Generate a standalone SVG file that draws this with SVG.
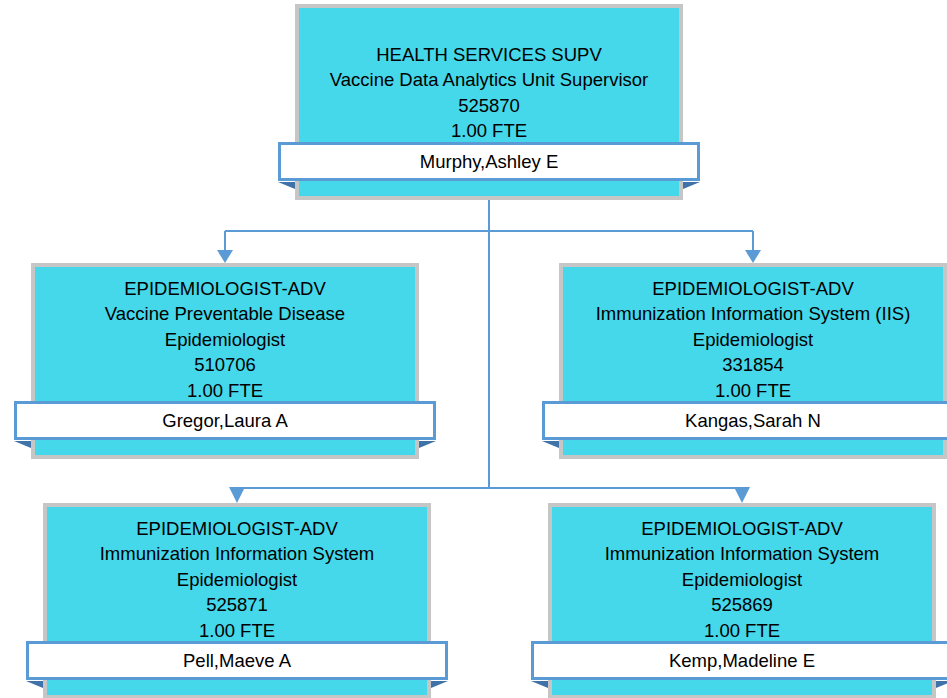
<svg xmlns="http://www.w3.org/2000/svg" width="947" height="698" viewBox="0 0 947 698">
<style>
.box{fill:#45D7EA;stroke:#C6C6C6;stroke-width:4}
.name{fill:#FFFFFF;stroke:#5B9BD5;stroke-width:3}
.fold{fill:#3E72A8}
.t{font-family:"Liberation Sans",Arial,sans-serif;font-size:18.5px;fill:#000;text-anchor:middle}
.ln{fill:none;stroke:#5B9BD5;stroke-width:2}
.ah{fill:#5B9BD5}
</style>
<rect width="947" height="698" fill="#FFFFFF"/>
<g id="connectors">
<path class="ln" d="M489,200 V488 M225,231 H753 M225,231 V251 M753,231 V251 M237,488 H742 M237,488 V491 M742,488 V491"/>
<polygon class="ah" points="217,250 233,250 225,263"/>
<polygon class="ah" points="745,250 761,250 753,263"/>
<polygon class="ah" points="229,487 245,487 237,503"/>
<polygon class="ah" points="734,487 750,487 742,503"/>
</g>
<g id="node-top">
<rect class="box" x="297" y="6" width="384" height="192"/>
<text class="t" x="489" y="61">HEALTH SERVICES SUPV</text>
<text class="t" x="489" y="86">Vaccine Data Analytics Unit Supervisor</text>
<text class="t" x="489" y="112">525870</text>
<text class="t" x="489" y="137">1.00 FTE</text>
<polygon class="fold" points="278,182 295,182 295,189"/>
<polygon class="fold" points="700,182 683,182 683,189"/>
<rect class="name" x="279.5" y="143.5" width="419" height="36"/>
<text class="t" x="489" y="168">Murphy,Ashley E</text>
</g>
<g id="node-gregor">
<rect class="box" x="33" y="265" width="384" height="192"/>
<text class="t" x="225" y="295">EPIDEMIOLOGIST-ADV</text>
<text class="t" x="225" y="320">Vaccine Preventable Disease</text>
<text class="t" x="225" y="346">Epidemiologist</text>
<text class="t" x="225" y="371">510706</text>
<text class="t" x="225" y="397">1.00 FTE</text>
<polygon class="fold" points="14,441 31,441 31,448"/>
<polygon class="fold" points="436,441 419,441 419,448"/>
<rect class="name" x="15.5" y="402.5" width="419" height="36"/>
<text class="t" x="225" y="427">Gregor,Laura A</text>
</g>
<g id="node-kangas">
<rect class="box" x="561" y="265" width="384" height="192"/>
<text class="t" x="753" y="295">EPIDEMIOLOGIST-ADV</text>
<text class="t" x="753" y="320">Immunization Information System (IIS)</text>
<text class="t" x="753" y="346">Epidemiologist</text>
<text class="t" x="753" y="371">331854</text>
<text class="t" x="753" y="397">1.00 FTE</text>
<polygon class="fold" points="542,441 559,441 559,448"/>
<polygon class="fold" points="964,441 947,441 947,448"/>
<rect class="name" x="543.5" y="402.5" width="419" height="36"/>
<text class="t" x="753" y="427">Kangas,Sarah N</text>
</g>
<g id="node-pell">
<rect class="box" x="45" y="505" width="384" height="192"/>
<text class="t" x="237" y="535">EPIDEMIOLOGIST-ADV</text>
<text class="t" x="237" y="560">Immunization Information System</text>
<text class="t" x="237" y="586">Epidemiologist</text>
<text class="t" x="237" y="611">525871</text>
<text class="t" x="237" y="637">1.00 FTE</text>
<polygon class="fold" points="26,681 43,681 43,688"/>
<polygon class="fold" points="448,681 431,681 431,688"/>
<rect class="name" x="27.5" y="642.5" width="419" height="36"/>
<text class="t" x="237" y="667">Pell,Maeve A</text>
</g>
<g id="node-kemp">
<rect class="box" x="550" y="505" width="384" height="192"/>
<text class="t" x="742" y="535">EPIDEMIOLOGIST-ADV</text>
<text class="t" x="742" y="560">Immunization Information System</text>
<text class="t" x="742" y="586">Epidemiologist</text>
<text class="t" x="742" y="611">525869</text>
<text class="t" x="742" y="637">1.00 FTE</text>
<polygon class="fold" points="531,681 548,681 548,688"/>
<polygon class="fold" points="953,681 936,681 936,688"/>
<rect class="name" x="532.5" y="642.5" width="419" height="36"/>
<text class="t" x="742" y="667">Kemp,Madeline E</text>
</g>
</svg>
